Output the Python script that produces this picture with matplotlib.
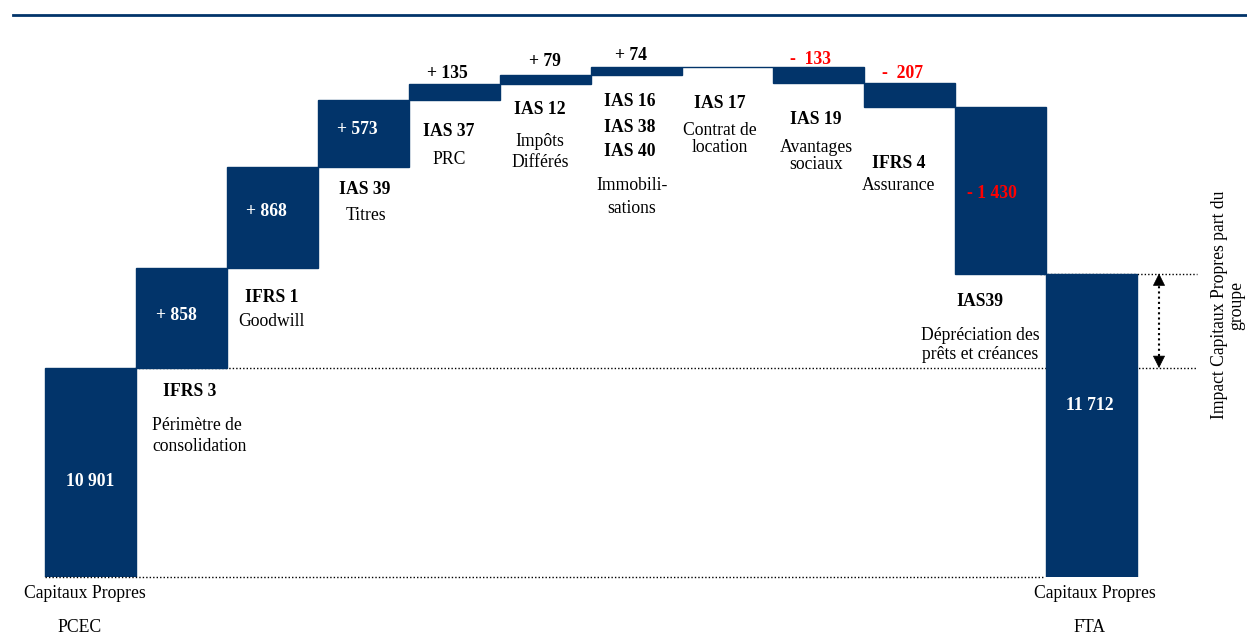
import matplotlib
matplotlib.use("Agg")
import matplotlib.pyplot as plt
from matplotlib.lines import Line2D

# data
categories = ["PCEC", "IFRS 3", "IFRS 1", "IAS 39", "IAS 37", "IAS 12",
              "IAS 16/38/40", "IAS 17", "IAS 19", "IFRS 4", "IAS39", "FTA"]
start_value = 10901
deltas = [858, 868, 573, 135, 79, 74, -6, -133, -207, -1430]
end_value = 11712
value_labels = ["10 901", "+ 858", "+ 868", "+ 573", "+ 135", "+ 79", "+ 74", "",
                "-  133", "-  207", "- 1 430", "11 712"]

NAVY = "#02346A"
RED = "#FF0000"
W, H = 1247, 634
plt.rcParams['font.family'] = ['Liberation Serif', 'DejaVu Serif']
FS = 12.7

fig = plt.figure(figsize=(W / 100, H / 100), dpi=100)
# axes start at the bar baseline (truncated value axis)
base_px = 577
ax = fig.add_axes([0, (H - base_px) / H, 1, base_px / H])
scale = 0.1165  # pixels per unit
ybot = start_value - (base_px - 368) / scale
ax.set_ylim(ybot, ybot + base_px / scale)
ax.set_xlim(-0.5 - 45 / 91.0, -0.5 + (W - 45) / 91.0)
ax.axis("off")

# waterfall
bottoms, heights = [0], [start_value]
level = start_value
for d in deltas:
    bottoms.append(min(level, level + d))
    heights.append(abs(d))
    level += d
bottoms.append(0)
heights.append(end_value)
xs = list(range(len(categories)))
ax.bar(xs, heights, bottom=bottoms, width=1.0, color=NAVY, edgecolor=NAVY,
       linewidth=1.0, zorder=2)

dot = (0, (1, 1.5))
def dx(px):
    return (px - 45) / 91.0 - 0.5
ax.hlines(start_value, dx(135), dx(1197), colors="black", linestyles=dot, lw=1, zorder=1)
ax.hlines(end_value, dx(1040), dx(1197), colors="black", linestyles=dot, lw=1, zorder=1)
ax.hlines(ybot, dx(45), dx(1045), colors="black", linestyles=dot, lw=1, zorder=3,
          clip_on=False)

# double arrow between the two totals
xa = dx(1159)
head = 100
ax.plot([xa, xa], [start_value + head, end_value - head], color="black",
        linestyle=dot, lw=1.5, zorder=3)
for tip, tail in [(end_value, end_value - head), (start_value, start_value + head)]:
    ax.annotate("", xy=(xa, tip), xytext=(xa, tail),
                arrowprops=dict(arrowstyle="-|>", color="black", lw=0.5,
                                mutation_scale=20, shrinkA=0, shrinkB=0))

# top rule
fig.add_artist(Line2D([13 / W, 1], [1 - 15 / H, 1 - 15 / H], color=NAVY, lw=2))


def txt(x, y, s, **kw):
    kw.setdefault("ha", "center")
    kw.setdefault("va", "center")
    kw.setdefault("fontsize", FS)
    fig.text(x / W, 1 - y / H, s, **kw)


# value labels
label_pos = [(90, 482, "white"), (176, 315, "white"), (266, 212, "white"),
             (357, 129, "white"), (447, 74, "black"), (545, 61, "black"),
             (631, 56, "black"), (0, 0, "black"), (810, 60, RED), (903, 73, RED),
             (992, 193, RED), (1090, 406, "white")]
for s, (x, y, c) in zip(value_labels, label_pos):
    if s:
        txt(x, y, s, color=c, fontweight="bold")

# category labels
bold = dict(fontweight="bold")
txt(190, 392, "IFRS 3", **bold)
txt(152, 436, "Périmètre de\nconsolidation", ha="left", linespacing=1.35)
txt(272, 297, "IFRS 1", **bold)
txt(271, 321, "Goodwill")
txt(365, 190, "IAS 39", **bold)
txt(366, 216, "Titres")
txt(449, 131, "IAS 37", **bold)
txt(449, 160, "PRC")
txt(540, 110, "IAS 12", **bold)
txt(540, 152, "Impôts\nDifférés", linespacing=1.3)
txt(630, 102, "IAS 16", **bold)
txt(630, 127, "IAS 38", **bold)
txt(630, 151, "IAS 40", **bold)
txt(632, 197, "Immobili-\nsations", linespacing=1.4)
txt(720, 104, "IAS 17", **bold)
txt(720, 139, "Contrat de\nlocation", linespacing=0.95)
txt(816, 119, "IAS 19", **bold)
txt(816, 156, "Avantages\nsociaux", linespacing=1.0)
txt(899, 163, "IFRS 4", **bold)
txt(899, 186, "Assurance")
txt(980, 302, "IAS39", **bold)
txt(980, 345, "Dépréciation des\nprêts et créances", linespacing=1.12)
txt(85, 593, "Capitaux Propres")
txt(80, 627, categories[0])
txt(1095, 593, "Capitaux Propres")
txt(1090, 627, categories[-1])
txt(1228, 305, "Impact Capitaux Propres part du\ngroupe", rotation=90,
    multialignment="center", linespacing=1.0)

fig.savefig("out.png", dpi=100)
